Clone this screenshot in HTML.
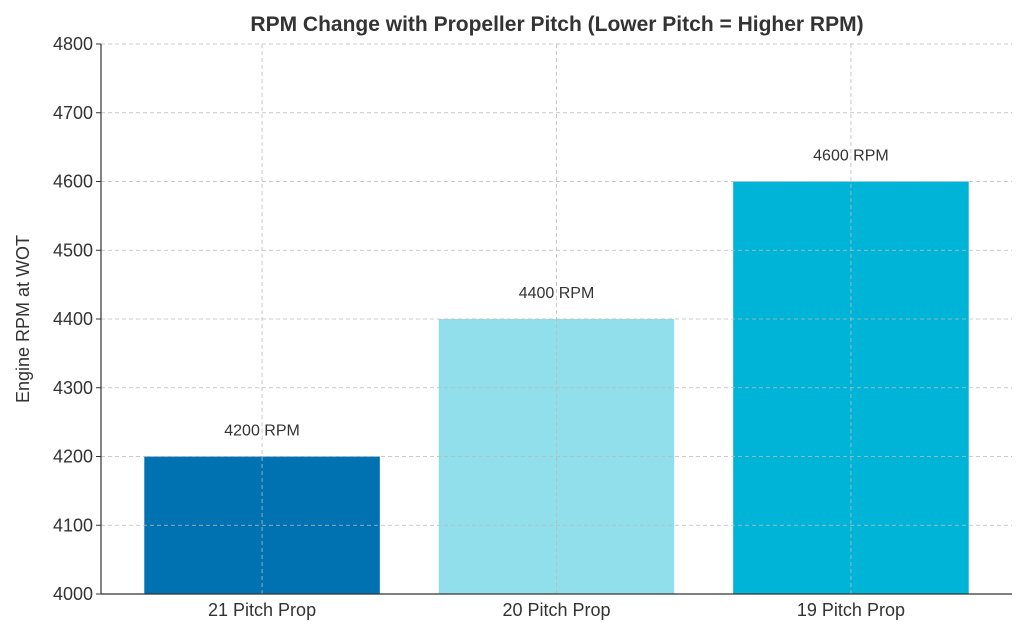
<!DOCTYPE html>
<html><head><meta charset="utf-8"><style>
html,body{margin:0;padding:0;background:#fff;}
svg{display:block;font-family:"Liberation Sans","DejaVu Sans",sans-serif;}
</style></head><body>
<svg id="chart" width="1024" height="635" viewBox="0 0 1024 635">
<text x="557" y="31" text-anchor="middle" font-size="21" font-weight="bold" fill="#333">RPM Change with Propeller Pitch (Lower Pitch = Higher RPM)</text>
<text transform="translate(29,319) rotate(-90)" text-anchor="middle" font-size="18" fill="#333">Engine RPM at WOT</text>
<g id="bars"></g><g id="grid"></g><g id="labels"></g><g id="ticks"></g>
<line x1="101" y1="44" x2="101" y2="594" stroke="#333" stroke-width="1.2"/>
<line x1="101" y1="594" x2="1012" y2="594" stroke="#333" stroke-width="1.2"/>
</svg>
<script>
const categories = ["21 Pitch Prop","20 Pitch Prop","19 Pitch Prop"];
const rpmValues = [4200,4400,4600];
const valueLabels = ["4200 RPM","4400 RPM","4600 RPM"];
const yTicks = [4000,4100,4200,4300,4400,4500,4600,4700,4800];
const barColors = ["#0072B2","#91DFEB","#00B4D8"];
const NS="http://www.w3.org/2000/svg";
const L=101,R=1012,T=44,B=594,yMin=4000,yMax=4800,xMin=-0.547,xMax=categories.length-1+0.547;
const y=v=>B-(v-yMin)/(yMax-yMin)*(B-T);
const x=i=>L+(i-xMin)/(xMax-xMin)*(R-L);
const bw=0.8*(x(1)-x(0));
function mk(tag,attrs,parent){const e=document.createElementNS(NS,tag);for(const k in attrs)e.setAttribute(k,attrs[k]);document.getElementById(parent).appendChild(e);return e;}
categories.forEach((c,i)=>{
  const r=mk('rect',{x:x(i)-bw/2,y:y(rpmValues[i]),width:bw,height:B-y(rpmValues[i]),fill:barColors[i%barColors.length]},'bars');
  
  
  const t=mk('text',{x:x(i),y:y(rpmValues[i])-21,'text-anchor':'middle','font-size':'16',fill:'#333'},'labels');
  t.textContent=valueLabels[i];
  
  
  const g=mk('line',{x1:x(i),x2:x(i),y1:T,y2:B,stroke:'#bbb','stroke-dasharray':'4,3','stroke-width':'0.8'},'grid');
  
  
  const xl=mk('text',{x:x(i),y:B+22,'text-anchor':'middle','font-size':'18',fill:'#333'},'ticks');
  xl.textContent=c;
  
  
});
yTicks.forEach(v=>{
  const g=mk('line',{x1:L,x2:R,y1:y(v),y2:y(v),stroke:'#bbb','stroke-dasharray':'4,3','stroke-width':'0.8'},'grid');
  
  
  const tk=mk('line',{x1:L-5,x2:L,y1:y(v),y2:y(v),stroke:'#333'},'ticks');
  
  
  const t=mk('text',{x:L-8,y:y(v)+6,'text-anchor':'end','font-size':'18',fill:'#333'},'ticks');
  t.textContent=v;
  
  
});
</script>
</body></html>
